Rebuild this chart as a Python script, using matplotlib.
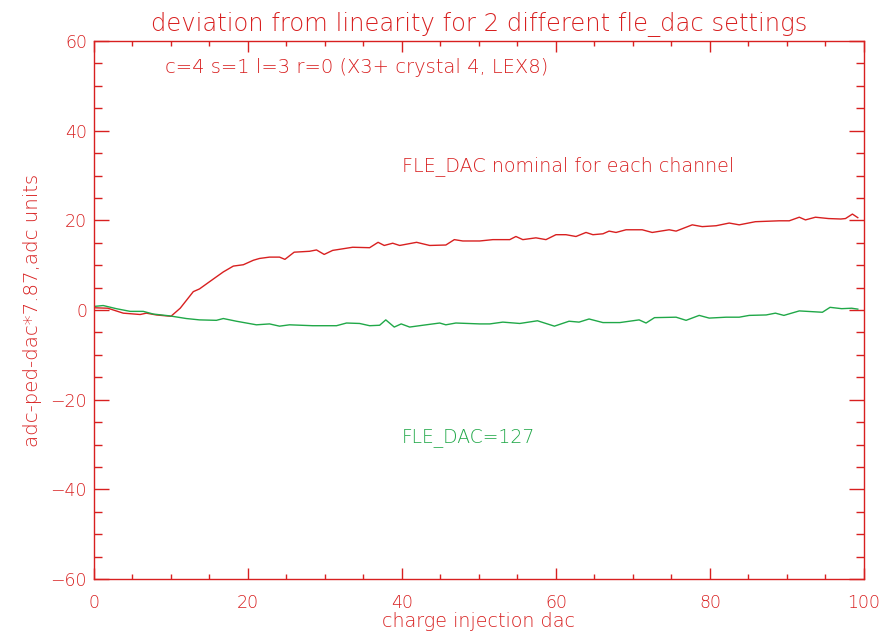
import matplotlib
matplotlib.use('Agg')
import matplotlib.pyplot as plt
from matplotlib.ticker import MultipleLocator

#------- deviation from linearity, two fle_dac settings -------
# FLE_DAC nominal for each channel
x_nom = [0, 1.8, 3.8, 6, 6.8, 8.1, 10, 11.2, 12.9, 13.7, 15, 16.8, 18.1, 19.4,
         20.7, 21.5, 22.8, 24.1, 24.8, 26, 28, 28.9, 29.9, 31, 33.6, 35.8, 36.9,
         37.7, 38.8, 39.7, 41.9, 43.6, 45.7, 46.8, 47.9, 50.1, 51.8, 54, 54.8,
         55.7, 57.4, 58.7, 60, 61.3, 62.6, 63.9, 64.8, 66.1, 66.9, 67.8, 69.1,
         71.2, 72.5, 74.7, 75.6, 77.7, 79, 80.8, 82.5, 83.8, 85.9, 89, 90.3,
         91.6, 92.4, 93.7, 95.4, 97, 97.6, 98.5, 99.2]
y_nom = [0.5, 0.4, -0.7, -1.0, -0.7, -1.1, -1.4, 0.4, 4.1, 4.7, 6.3, 8.5, 9.8, 10.1,
         11.1, 11.5, 11.8, 11.8, 11.3, 12.9, 13.1, 13.4, 12.4, 13.3, 14.0, 13.9, 15.1,
         14.4, 14.9, 14.4, 15.1, 14.4, 14.5, 15.7, 15.4, 15.4, 15.7, 15.7, 16.4,
         15.7, 16.1, 15.7, 16.8, 16.8, 16.4, 17.3, 16.8, 17.0, 17.6, 17.3, 17.9,
         17.9, 17.3, 17.9, 17.6, 19.0, 18.6, 18.8, 19.4, 19.0, 19.7, 19.9, 19.9,
         20.7, 20.1, 20.7, 20.4, 20.3, 20.4, 21.4, 20.6]

# FLE_DAC=127
x_127 = [0, 1.2, 2.9, 4.7, 6.4, 7.7, 9.8, 12, 13.7, 15.9, 16.8, 18.5, 21.1, 22.8,
         24.1, 25.4, 28.4, 31.5, 32.8, 34.5, 35.8, 37.1, 37.9, 39, 39.9, 41, 42.7,
         44.9, 45.7, 47, 50.1, 51.4, 53.1, 55.3, 57.6, 59.8, 61.7, 63, 64.3, 66.1,
         68.3, 70.8, 71.7, 72.8, 75.6, 76.9, 78.6, 79.9, 82.1, 83.8, 85.1, 87.3,
         88.5, 89.6, 91.6, 94.6, 95.6, 97.1, 98.4, 99.2]
y_127 = [0.8, 1.0, 0.3, -0.3, -0.3, -0.9, -1.3, -1.9, -2.2, -2.3, -1.9, -2.5, -3.3, -3.1,
         -3.6, -3.3, -3.5, -3.5, -2.9, -3.0, -3.5, -3.4, -2.2, -3.8, -3.1, -3.8, -3.4,
         -2.9, -3.3, -2.9, -3.1, -3.1, -2.7, -3.0, -2.4, -3.6, -2.5, -2.7, -2.0, -2.8,
         -2.8, -2.2, -2.9, -1.7, -1.6, -2.3, -1.2, -1.8, -1.6, -1.6, -1.2, -1.1,
         -0.7, -1.2, -0.2, -0.5, 0.6, 0.3, 0.4, 0.2]

red = '#d82020'
green = '#20a848'

# thin strokes, close to the old vector plotting font
plt.rcParams['font.family'] = ['DejaVu Sans']
plt.rcParams['font.weight'] = 'light'
plt.rcParams['axes.titleweight'] = 'light'
plt.rcParams['axes.labelweight'] = 'light'

fig = plt.figure(figsize=(8.94, 6.36), dpi=100)
ax = fig.add_axes([0.1051, 0.0896, 0.8613, 0.8459])

ax.plot(x_nom, y_nom, color=red, lw=1.0)
ax.plot(x_127, y_127, color=green, lw=1.0)

ax.set_xlim(0, 100)
ax.set_ylim(-60, 60)
ax.xaxis.set_major_locator(MultipleLocator(20))
ax.xaxis.set_minor_locator(MultipleLocator(5))
ax.yaxis.set_major_locator(MultipleLocator(20))
ax.yaxis.set_minor_locator(MultipleLocator(5))

# red frame, ticks inside on every side
for s in ax.spines.values():
    s.set_color(red)
    s.set_linewidth(1.0)
ax.tick_params(axis='both', which='both', direction='in', colors=red,
               top=True, right=True, width=1.0, labelsize=12.5)
ax.tick_params(axis='x', which='major', length=7.8, pad=11)
ax.tick_params(axis='x', which='minor', length=3.9)
ax.tick_params(axis='y', which='major', length=11, pad=5)
ax.tick_params(axis='y', which='minor', length=5.5)
for lab in ax.get_xticklabels() + ax.get_yticklabels():
    lab.set_color(red)

ax.set_title('deviation from linearity for 2 different fle_dac settings',
             color=red, fontsize=17.5, pad=7)
ax.set_xlabel('charge injection dac', color=red, fontsize=13.8, labelpad=0)
ax.set_ylabel('adc-ped-dac*7.87,adc units', color=red, fontsize=14.2, labelpad=6)

ax.text(9.2, 54, 'c=4 s=1 l=3 r=0 (X3+ crystal 4, LEX8)', color=red,
        fontsize=14, va='center')
ax.text(40, 32, 'FLE_DAC nominal for each channel', color=red,
        fontsize=13.8, va='center')
ax.text(40, -28.5, 'FLE_DAC=127', color=green, fontsize=13.5, va='center')

fig.savefig('out.png', dpi=100)
